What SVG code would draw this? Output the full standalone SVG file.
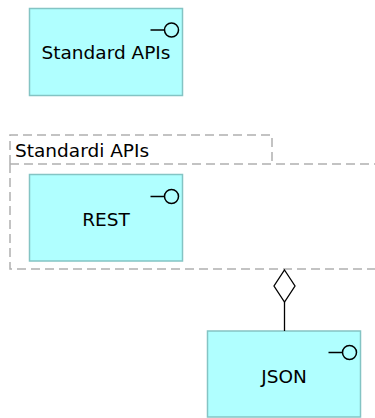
<svg xmlns="http://www.w3.org/2000/svg" width="375" height="418" viewBox="0 0 375 418">
<defs>
<style>
.box{fill:#b0ffff;stroke:#84c4c4;stroke-width:1.5}
.icon{fill:none;stroke:#000;stroke-width:1.5}
.lbl{font-family:"DejaVu Sans",sans-serif;font-size:18.5px;fill:#000;text-anchor:middle}
.grp{fill:none;stroke:#b0b0b0;stroke-width:1.5;stroke-dasharray:9 5}
.glbl{font-family:"DejaVu Sans",sans-serif;font-size:18.5px;fill:#000}
.conn{fill:none;stroke:#000;stroke-width:1.3}
</style>
</defs>
<rect width="375" height="418" fill="#fff"/>
<g id="group-standardi-apis">
<path class="grp" d="M10,164 L10,135 L272,135 L272,164"/>
<path class="grp" d="M10,164 L380,164 M10,164 L10,269 L380,269"/>
<text class="glbl" x="15" y="157">Standardi APIs</text>
</g>
<g id="node-standard-apis">
<rect class="box" x="29.5" y="8.5" width="153" height="87"/>
<line class="icon" x1="150.5" y1="30" x2="164.5" y2="30"/>
<circle class="icon" cx="171.5" cy="30" r="7"/>
<text class="lbl" x="106" y="59">Standard APIs</text>
</g>
<g id="node-rest">
<rect class="box" x="29.5" y="174.5" width="153" height="86.5"/>
<line class="icon" x1="150.5" y1="196.5" x2="164.5" y2="196.5"/>
<circle class="icon" cx="171.5" cy="196.5" r="7"/>
<text class="lbl" x="106" y="225.5">REST</text>
</g>
<g id="node-json">
<rect class="box" x="207.5" y="331" width="153" height="86"/>
<line class="icon" x1="328.5" y1="352.5" x2="342.5" y2="352.5"/>
<circle class="icon" cx="349.5" cy="352.5" r="7"/>
<text class="lbl" x="284" y="382.5">JSON</text>
</g>
<g id="connectors">
<path class="conn" d="M284.5,302 L284.5,331"/>
<path class="conn" d="M284.5,270 L295,286 L284.5,302 L274,286 Z" style="fill:#fff"/>
</g>
</svg>
